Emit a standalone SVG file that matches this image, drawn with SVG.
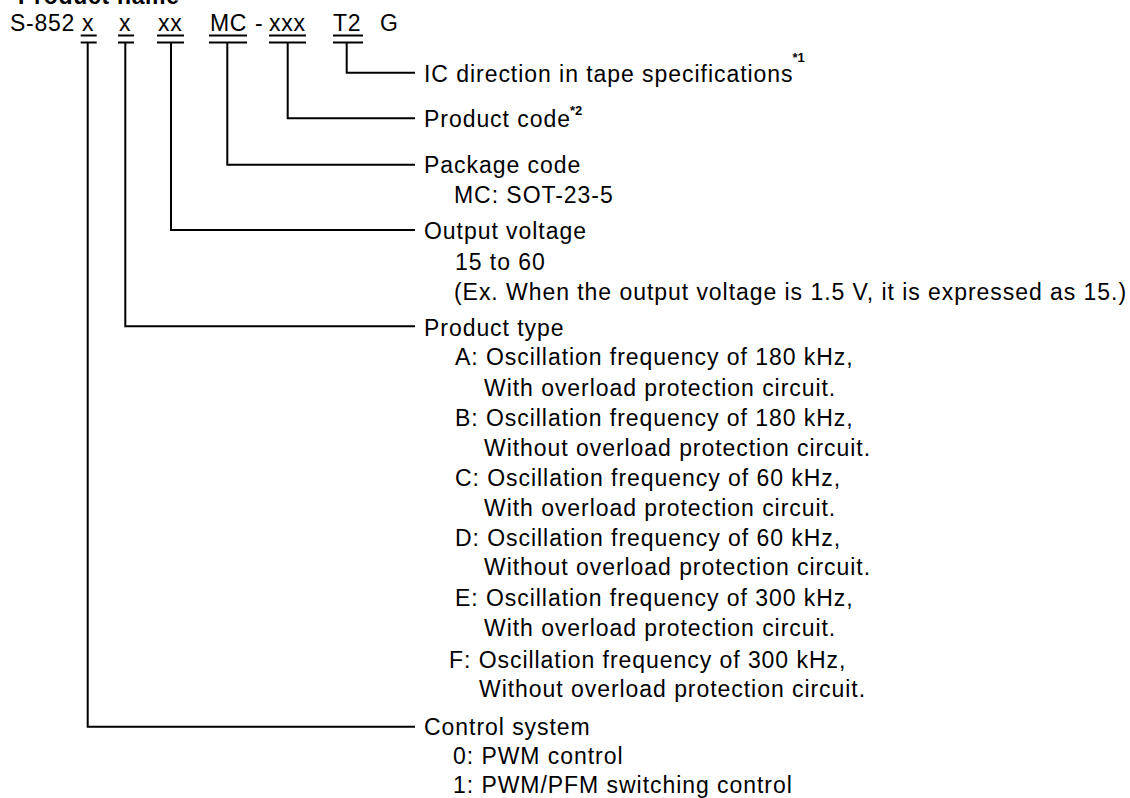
<svg xmlns="http://www.w3.org/2000/svg" width="1130" height="798" viewBox="0 0 1130 798">
<style>
text{font-family:"Liberation Sans",Arial,sans-serif;font-size:23px;letter-spacing:0.95px;fill:#000}
.top{letter-spacing:0.7px}
.b{font-weight:bold}
.sup{font-weight:bold;font-size:13px;letter-spacing:0}
.ln{stroke:#000;stroke-width:2;fill:none}
</style>
<rect width="1130" height="798" fill="#fff"/>
<g id="title"><text class="b top" x="18" y="4">Product name</text></g>
<g id="code" class="top">
<text class="top" x="10" y="30.7">S-852</text>
<text class="top" x="82" y="30.7">x</text>
<text class="top" x="119" y="30.7">x</text>
<text class="top" x="158" y="30.7">xx</text>
<text class="top" x="210" y="30.7">MC</text>
<text class="top" x="255" y="30.7">-</text>
<text class="top" x="269" y="30.7">xxx</text>
<text class="top" x="333" y="30.7">T2</text>
<text class="top" x="380" y="30.7">G</text>
<g class="ln">
<path d="M80.7 35.5H96.7M80.7 42.5H96.7"/>
<path d="M118 35.5H134M118 42.5H134"/>
<path d="M157 35.5H184M157 42.5H184"/>
<path d="M209 35.5H247M209 42.5H247"/>
<path d="M269 35.5H306M269 42.5H306"/>
<path d="M333 35.5H363M333 42.5H363"/>
</g>
</g>
<g id="connectors" class="ln">
<path d="M346.7 42.5V72.7H415"/>
<path d="M287.7 42.5V118.3H415"/>
<path d="M227.3 42.5V164.7H415"/>
<path d="M171 42.5V230H415"/>
<path d="M125.3 42.5V326.3H415"/>
<path d="M87.7 42.5V726.7H415"/>
</g>
<g id="tape"><text x="424" y="82">IC direction in tape specifications<tspan class="sup" dx="-1" dy="-20">*1</tspan></text></g>
<g id="product-code"><text x="424" y="127">Product code<tspan class="sup" dx="-1" dy="-12">*2</tspan></text></g>
<g id="package"><text x="424" y="173">Package code</text><text x="454" y="203">MC: SOT-23-5</text></g>
<g id="voltage"><text x="424" y="239">Output voltage</text><text x="455" y="270">15 to 60</text><text x="454" y="300">(Ex. When the output voltage is 1.5 V, it is expressed as 15.)</text></g>
<g id="type">
<text x="424" y="336">Product type</text>
<text x="455" y="365">A: Oscillation frequency of 180 kHz,</text>
<text x="484" y="396">With overload protection circuit.</text>
<text x="455" y="426">B: Oscillation frequency of 180 kHz,</text>
<text x="484" y="456">Without overload protection circuit.</text>
<text x="455" y="486">C: Oscillation frequency of 60 kHz,</text>
<text x="484" y="516">With overload protection circuit.</text>
<text x="455" y="546">D: Oscillation frequency of 60 kHz,</text>
<text x="484" y="575">Without overload protection circuit.</text>
<text x="455" y="606">E: Oscillation frequency of 300 kHz,</text>
<text x="484" y="636">With overload protection circuit.</text>
<text x="449" y="668">F: Oscillation frequency of 300 kHz,</text>
<text x="479" y="697">Without overload protection circuit.</text>
</g>
<g id="control"><text x="424" y="735">Control system</text><text x="453" y="764">0: PWM control</text><text x="453" y="793">1: PWM/PFM switching control</text></g>
</svg>
